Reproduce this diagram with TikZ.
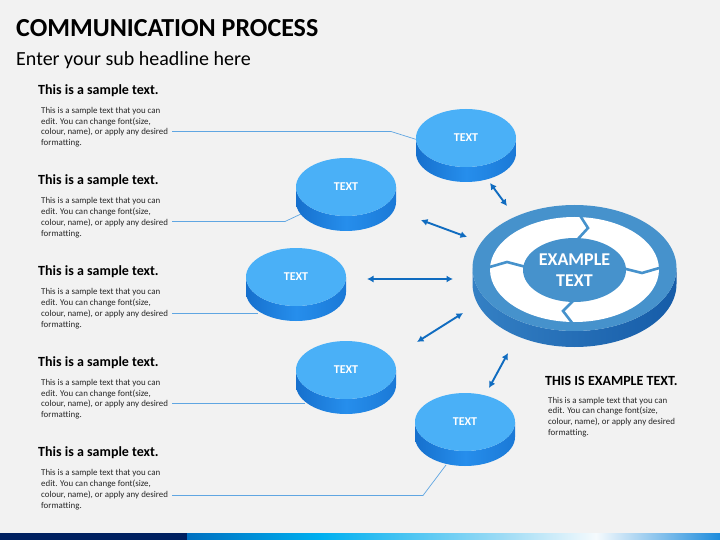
\documentclass[tikz,border=0pt]{standalone}
\usepackage{fontspec}
\setmainfont[Ligatures=NoCommon]{Carlito}
\usetikzlibrary{shapes.geometric,arrows.meta}
\definecolor{bg}{RGB}{242,242,242}
\definecolor{topblue}{RGB}{74,176,247}
\definecolor{sidedark}{RGB}{22,112,205}
\definecolor{sidemid}{RGB}{38,142,236}
\definecolor{ringblue}{RGB}{70,146,204}
\definecolor{ringsideA}{RGB}{52,128,196}
\definecolor{ringsideB}{RGB}{22,92,168}
\definecolor{arrowblue}{RGB}{16,108,192}
\definecolor{linkblue}{RGB}{96,166,226}
\definecolor{bodygray}{RGB}{38,38,38}
\definecolor{navy}{RGB}{0,32,96}
\tikzset{
  topface/.style={ellipse, fill=topblue, minimum width=100pt, minimum height=58pt, inner sep=0pt, text=white, font=\bfseries\fontsize{12}{14}\selectfont},
  sidefill/.style={left color=sidedark, right color=sidedark!70!sidemid, middle color=sidemid},
  hd/.style={anchor=base west, inner sep=0pt, font=\bfseries\fontsize{14}{16}\selectfont},
  bodytxt/.style={anchor=north west, inner sep=0pt, align=left, text=bodygray, font=\fontsize{8.9}{10.8}\selectfont},
  link/.style={draw=linkblue, line width=0.7pt},
  biarrow/.style={draw=arrowblue, line width=1.9pt, {Latex[length=6.5pt,width=7pt]}-{Latex[length=6.5pt,width=7pt]}},
}
\newcommand\mydisc[4]{%
  \path[sidefill] (#2-50,#3) -- (#2-50,#3+15)
     arc[start angle=180,end angle=360,x radius=50pt,y radius=29pt]
     -- (#2+50,#3)
     arc[start angle=0,end angle=-180,x radius=50pt,y radius=29pt] -- cycle;
  \node[topface] (#1) at (#2,#3) {#4};
}
\newcommand\mysection[2]{% index name, heading baseline
  \node[hd] (h#1) at (38,#2) {This is a sample text.};
  \node[bodytxt] (b#1) at (41,#2+12.6) {This is a sample text that you can\\edit. You can change font(size,\\colour, name), or apply any desired\\formatting.};
}
\begin{document}
\begin{tikzpicture}[x=1pt,y=-1pt]
\useasboundingbox (0,0) rectangle (720,540);
\fill[bg] (0,0) rectangle (720,540);

% titles
\node[anchor=base west, inner sep=0pt, font=\bfseries\fontsize{26}{30}\selectfont] (title) at (16,36.7) {COMMUNICATION PROCESS};
\node[anchor=base west, inner sep=0pt, font=\fontsize{20}{24}\selectfont] (sub) at (16,66) {Enter your sub headline here};

% left sections
\mysection{1}{94.3}
\mysection{2}{185}
\mysection{3}{275.7}
\mysection{4}{366.3}
\mysection{5}{456.7}

% connector coordinates
\coordinate (t1) at (172,131.5);
\coordinate (t2) at (172,221.5);
\coordinate (t3) at (172,313);
\coordinate (t4) at (172,403);
\coordinate (t5) at (172,495.5);
\coordinate (e1) at (418,140);
\coordinate (e2) at (301,214);
\coordinate (e3) at (258,313);
\coordinate (e4) at (305,403);
\coordinate (e5) at (446,465);

\draw[link] (t1) -- (391,131.5) -- (e1);
\draw[link] (t2) -- (285,221.5) -- (e2);
\draw[link] (t3) -- (e3);
\draw[link] (t4) -- (e4);
\draw[link] (t5) -- (423,495.5) -- (e5);

% discs
\mydisc{d1}{466}{138}{TEXT}
\mydisc{d2}{346}{187}{TEXT}
\mydisc{d3}{296}{277}{TEXT}
\mydisc{d4}{346}{370}{TEXT}
\mydisc{d5}{465}{422}{TEXT}

% central disc
\path[left color=ringsideA, right color=ringsideB] (574.5-102,268) -- (574.5-102,268+16)
   arc[start angle=180,end angle=360,x radius=102pt,y radius=63pt]
   -- (574.5+102,268)
   arc[start angle=0,end angle=-180,x radius=102pt,y radius=63pt] -- cycle;
\fill[ringblue] (574.5,268) ellipse [x radius=102pt, y radius=63pt];
\fill[white] (574.5,269.5) ellipse [x radius=84.5pt, y radius=52.5pt];
\draw[ringblue, line width=2.6pt] (579,214) -- (588,228) -- (577,240);
\draw[ringblue, line width=2.6pt] (622,268) -- (642,273) -- (661,267.5);
\draw[ringblue, line width=2.6pt] (574,300) -- (563,311) -- (573,324);
\draw[ringblue, line width=2.6pt] (488,267.5) -- (507,262) -- (526,267);
\node[ellipse, fill=ringblue, minimum width=103pt, minimum height=64pt, inner sep=0pt, text=white, align=center, font=\bfseries\fontsize{18}{21}\selectfont] (hub) at (574.5,270) {EXAMPLE\\TEXT};

% arrows
\coordinate (a1s) at (490,183); \coordinate (a1e) at (507,206);
\coordinate (a2s) at (421,220); \coordinate (a2e) at (467,237);
\coordinate (a3s) at (367,279); \coordinate (a3e) at (453,279);
\coordinate (a4s) at (417,342); \coordinate (a4e) at (463,313);
\coordinate (a5s) at (489,388); \coordinate (a5e) at (508,353);
\draw[biarrow] (a1s) -- (a1e);
\draw[biarrow] (a2s) -- (a2e);
\draw[biarrow] (a3s) -- (a3e);
\draw[biarrow] (a4s) -- (a4e);
\draw[biarrow] (a5s) -- (a5e);

% right text
\node[hd] (rh) at (545,385.7) {THIS IS EXAMPLE TEXT.};
\node[bodytxt] (rb) at (548,396.8) {This is a sample text that you can\\edit. You can change font(size,\\colour, name), or apply any desired\\formatting.};

% bottom bar
\fill[navy] (0,533) rectangle (187.5,540);
\shade[left color={rgb,255:red,0;green,112;blue,192}, right color={rgb,255:red,0;green,176;blue,240}] (187,533) rectangle (321.5,540);
\shade[left color={rgb,255:red,0;green,176;blue,240}, right color={rgb,255:red,160;green,220;blue,245}] (321,533) rectangle (505.5,540);
\shade[left color={rgb,255:red,160;green,220;blue,245}, right color={rgb,255:red,245;green,250;blue,253}] (505,533) rectangle (596.5,540);
\shade[left color={rgb,255:red,245;green,250;blue,253}, right color={rgb,255:red,30;green,140;blue,220}] (596,533) rectangle (720,540);
\end{tikzpicture}
\end{document}
